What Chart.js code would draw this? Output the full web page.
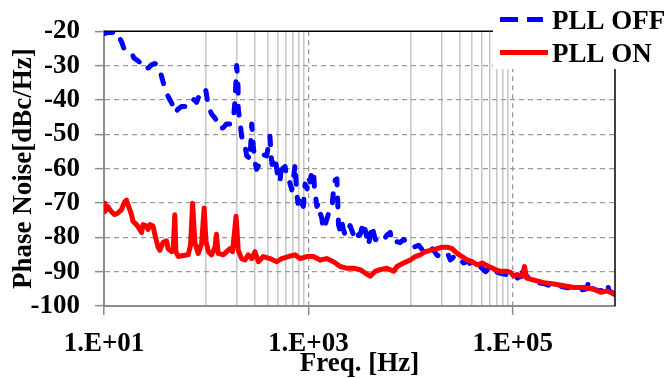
<!DOCTYPE html>
<html><head><meta charset="utf-8">
<script src="https://cdn.jsdelivr.net/npm/chart.js@4.4.0/dist/chart.umd.min.js"></script>
<style>html,body{margin:0;padding:0;background:#fff;}#wrap{width:665px;height:378px;position:relative;}</style>
</head><body><div id="wrap"><canvas id="c" width="665" height="378"></canvas></div>
<script>
// ---- data (frequency in Hz, phase noise in dBc/Hz) ----
const offFreq = [10,10.9,11.9,13.2,14.3,14.9,15.6,17.1,18.6,19.5,
21.4,23.9,25.1,27.4,29.4,31.4,33.6,35.2,36.8,38.5,
40.3,42.4,44.0,46.1,48.2,50.5,52.8,57.4,61.8,66.6,
70.8,75.7,80.5,84.7,90.1,94.9,99.3,105,113,122,
131,136,147,158,171,184,191,199,205,206,
214,222,231,240,249,258,268,279,284,289,
300,312,325,349,368,391,406,421,431,441,
454,472,490,505,528,548,571,591,614,637,
663,688,713,741,769,792,829,857,893,928,
971,1000,1040,1080,1120,1150,1210,1250,1300,1350,
1400,1460,1510,1580,1630,1700,1760,1830,1900,1930,
1970,2050,2130,2200,2290,2380,2470,2560,2660,2760,
2870,2980,3100,3210,3360,3480,3590,3740,3870,4030,
4180,4340,4510,4770,5040,5430,5840,6320,6570,7080,
7930,8540,9220,9930,10700,12000,12900,13900,14900,16200,
17100,18100,19100,20300,21900,23400,24500,25600,27400,30000,
33100,36000,39400,43100,48200,54000,60400,67600,75700,84700,
94800,106000,115000,122000,128000,133000,143000,152000,167000,187000,
209000,234000,268000,305000,343000,384000,428000,482000,527000,556000,
578000,647000,724000,775000,843000,877000,929000,1000000];
const offNoise = [-20.7,-20.4,-20.4,-20,-22.1,-23.2,-24.9,-25.5,-26,-27.7,
-28.6,-29.7,-31.1,-30.6,-29.7,-29.4,-30,-31.4,-33.4,-35.6,
-37.3,-39,-39.9,-41,-42.7,-43.8,-42.7,-41.9,-41.9,-41,
-41.3,-39.9,-40.7,-39,-37.6,-36.8,-37.3,-41.9,-44.1,-45.3,
-47,-48.4,-48.1,-47,-47,-46.1,-40.5,-30,-36.2,-42.7,
-46.1,-50.6,-51.8,-53.4,-56.3,-56.6,-57.4,-47,-49.8,-53.4,
-58.2,-60.2,-59.1,-56.6,-56,-56.3,-53.2,-50.6,-56,-58.8,
-57.4,-56.6,-60.2,-63,-63.9,-58.2,-60.2,-59.4,-62.2,-62.5,
-64.5,-66.2,-63,-58.8,-67.3,-70.1,-68.1,-70.1,-71,-64.5,
-65.9,-62.5,-63.9,-60.8,-60.5,-66.2,-71,-70.1,-72.9,-74.3,
-77.7,-76.3,-74.9,-72.9,-71.5,-71,-66.4,-63.3,-63,-68.7,
-76.3,-78.3,-75.8,-77.7,-79.4,-77.5,-77.2,-76.6,-78,-79.2,
-80.3,-80.9,-79.2,-79.2,-76.9,-79.2,-77.7,-80.3,-82.3,-79.2,
-76.6,-78.6,-80.6,-80.9,-81.5,-80.9,-79.4,-78.6,-81.5,-81.2,
-81.5,-80.6,-81.5,-82.3,-82.9,-82.3,-83.5,-84.3,-83.8,-83.2,
-84.1,-85.2,-85.5,-84.7,-84.4,-85.2,-86.6,-86.1,-85.2,-86.3,
-87.5,-86.9,-88.1,-88.9,-88.6,-90,-88.6,-90,-90.5,-90.8,
-91.4,-92.2,-91.6,-91.4,-88,-90.8,-91.9,-92.7,-93.3,-93.3,
-93.6,-94.1,-93.8,-94.4,-94.7,-94.4,-95,-95.3,-95,-92.7,
-94.7,-95.3,-95.6,-95.3,-93.6,-95.6,-96,-96.8];

const onFreq = [10,10.2,10.9,11.8,12.7,13.7,14.8,16.0,16.6,17.9,
18.6,19.2,20.8,22.4,23.3,24.1,26.0,27.0,28.1,30.2,
31.4,33.8,35.2,37.8,40.9,42.4,45.8,47.5,49.3,50.5,
53.2,59.5,66.6,70.3,73.6,77.5,83.5,90.1,95.5,99.3,
105,113,122,126,131,147,158,171,181,196,
206,222,240,258,279,300,324,362,421,490,
548,637,741,829,964,1120,1300,1510,1760,2050,
2380,2760,3210,3590,4030,4510,5040,5870,6810,7360,
8540,9930,11100,12400,13900,15600,18100,20300,22800,25500,
28500,31900,35700,40000,44800,50100,58200,67600,75700,88100,
94800,102000,110000,119000,124000,130000,136000,149000,173000,201000,
252000,316000,396000,497000,622000,724000,843000,977000,1000000];
const onNoise = [-70.1,-72.5,-71.1,-72.5,-73.4,-72.9,-72,-69.6,-69.2,-72,
-73.4,-75.3,-76.3,-77.7,-78.6,-76.3,-76.7,-77.7,-76.3,-76.7,
-79.1,-82.9,-83.8,-81.5,-81,-83.3,-84.2,-83.8,-73.4,-84.2,
-85.6,-85.3,-85.1,-82.3,-70.1,-81.5,-84.7,-81.9,-71.5,-81,
-84.2,-85.1,-82.9,-79.1,-84.7,-85.1,-84.2,-83.3,-84.2,-73.9,
-83.8,-86.2,-86.6,-85.1,-86.2,-84.2,-87.1,-85.6,-86.2,-87.1,
-86.2,-85.6,-85.1,-86.2,-85.6,-85.6,-86.6,-86.2,-87.1,-88.5,
-89,-89,-89.4,-90.4,-91.3,-89.9,-89.4,-89,-89.9,-88.5,
-87.5,-86.6,-85.6,-85.1,-84.2,-83.8,-83.3,-82.9,-82.9,-83.3,
-84.7,-85.6,-86.6,-87.1,-88,-87.5,-88.5,-89.4,-89.9,-89.9,
-90.2,-91.3,-90.8,-91.3,-91.3,-88.5,-91.8,-92.2,-92.7,-93.2,
-93.6,-94.1,-94.6,-94.6,-95.1,-96,-95.6,-96.5,-96.8];

const seriesNames = ['PLL OFF', 'PLL ON'];
const xTickValues = [10,100,200,300,400,500,600,700,800,900,1000,
  10000,20000,30000,40000,50000,60000,70000,80000,90000,100000,1000000];
const xTickLabels = {10:'1.E+01', 1000:'1.E+03', 100000:'1.E+05'};
const xDashedLines = [1000, 100000];
const yMin = -100, yMax = -20, yStep = 10;
const xTitle = 'Freq. [Hz]';
const yTitle = 'Phase Noise[dBc/Hz]';

const FONT = 'Liberation Serif, Times New Roman, serif';
const BLUE = '#0000ff', RED = '#ff0000';
const AXIS_GRAY = '#8c8c8c', DASH_GRAY = '#9a9a9a', MINOR_GRAY = '#c8c8c8';
const T = 'rgba(0,0,0,0)';

const framePlugin = {
  id: 'frame',
  afterDraw(chart) {
    const {ctx, chartArea: a} = chart;
    ctx.save();
    ctx.strokeStyle = '#000'; ctx.lineWidth = 1.5; ctx.setLineDash([]);
    ctx.beginPath();
    ctx.moveTo(a.left, a.top); ctx.lineTo(a.right, a.top); ctx.lineTo(a.right, a.bottom);
    ctx.stroke();
    // legend area
    const lx = 493;
    ctx.fillStyle = '#fff';
    ctx.fillRect(lx, 0, chart.width - lx, 69);
    const ds = chart.data.datasets;
    const rows = [21, 54];
    ds.forEach((d, i) => {
      ctx.save();
      ctx.strokeStyle = d.borderColor; ctx.lineWidth = 5;
      ctx.lineCap = 'butt';
      ctx.setLineDash(i === 0 ? [18, 9] : []);
      ctx.beginPath(); ctx.moveTo(500, rows[i] - 1.5); ctx.lineTo(i === 0 ? 543 : 548, rows[i] - 1.5); ctx.stroke();
      ctx.restore();
      ctx.fillStyle = '#000';
      ctx.font = 'bold 27px ' + FONT;
      ctx.textBaseline = 'middle'; ctx.textAlign = 'left';
      ctx.fillText(d.label, 552, rows[i] + 1);
    });
    ctx.restore();
  }
};

new Chart(document.getElementById('c'), {
  type: 'line',
  data: {
    datasets: [
      { label: seriesNames[0], data: offFreq.map((f, i) => ({x: f, y: offNoise[i]})),
        borderColor: BLUE, backgroundColor: BLUE, borderWidth: 5, borderDash: [9, 13],
        borderCapStyle: 'round', borderJoinStyle: 'round', pointRadius: 0, tension: 0, order: 2 },
      { label: seriesNames[1], data: onFreq.map((f, i) => ({x: f, y: onNoise[i]})),
        borderColor: RED, backgroundColor: RED, borderWidth: 5,
        borderJoinStyle: 'round', pointRadius: 0, tension: 0, order: 1 }
    ]
  },
  options: {
    responsive: false, animation: false, devicePixelRatio: 1,
    layout: { padding: { left: 0, top: 22, right: 50, bottom: 0 } },
    plugins: { legend: { display: false }, tooltip: { enabled: false } },
    scales: {
      x: {
        type: 'logarithmic', position: 'bottom', min: 10, max: 1000000,
        afterBuildTicks: s => { s.ticks = xTickValues.map(v => ({value: v})); },
        afterFit: s => { s.height = 72; },
        ticks: {
          autoSkip: false, maxRotation: 0, minRotation: 0, padding: 13, color: '#000',
          font: { family: FONT, weight: 'bold', size: 27 },
          callback: v => xTickLabels[v] || ''
        },
        grid: {
          drawTicks: true, tickLength: 9, tickWidth: 1.5,
          color: c => { const v = c.tick && c.tick.value; if (v === 1000000) return T; if (v === 10) return AXIS_GRAY; if (xDashedLines.includes(v)) return DASH_GRAY; return MINOR_GRAY; },
          lineWidth: c => { const v = c.tick && c.tick.value; return xDashedLines.includes(v) ? 1.3 : 1.6; },
          tickColor: c => { const v = c.tick && c.tick.value; return xTickLabels[v] ? AXIS_GRAY : T; }
        },
        border: { display: true, color: AXIS_GRAY, width: 2,
          dash: c => { const v = c.tick && c.tick.value; return xDashedLines.includes(v) ? [5, 4] : []; } },
        title: { display: true, text: xTitle, color: '#000',
          font: { family: FONT, weight: 'bold', size: 27, lineHeight: 1 }, padding: { top: 0, bottom: 0 } }
      },
      y: {
        type: 'linear', min: yMin, max: yMax,
        afterFit: s => { s.width = 104; },
        ticks: { stepSize: yStep, autoSkip: false, padding: 15, color: '#000',
          font: { family: FONT, weight: 'bold', size: 27 }, callback: v => String(v) },
        grid: {
          drawTicks: true, tickLength: 9, tickWidth: 1.5, tickColor: AXIS_GRAY,
          color: c => { const v = c.tick && c.tick.value; return (v === yMax || v === yMin) ? T : DASH_GRAY; },
          lineWidth: 1.3
        },
        border: { display: true, color: AXIS_GRAY, width: 2,
          dash: c => { const v = c.tick && c.tick.value; return (v === undefined || v === yMax || v === yMin) ? [] : [5, 4]; } },
        title: { display: true, text: yTitle, color: '#000',
          font: { family: FONT, weight: 'bold', size: 27, lineHeight: 1 }, padding: { top: 11, bottom: 0 } }
      }
    }
  },
  plugins: [framePlugin]
});
</script></body></html>
